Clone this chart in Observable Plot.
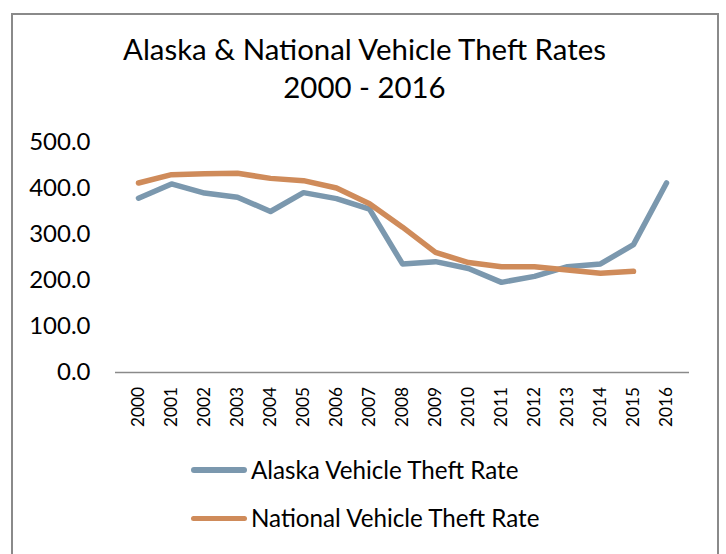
<!DOCTYPE html>
<html>
<head>
<meta charset="utf-8">
<script src="https://cdn.jsdelivr.net/npm/d3@7"></script>
<script src="https://cdn.jsdelivr.net/npm/@observablehq/plot@0.6"></script>
<style>
  html, body { margin: 0; padding: 0; background: #fff; }
  #wrap { position: relative; width: 726px; height: 554px; overflow: hidden; font-family: Lato, "Open Sans", sans-serif; color: #000; }
  #frame { position: absolute; left: 11px; top: 13px; width: 708px; height: 600px; border: 2px solid #8a8a8a; box-sizing: border-box; }
  #title { position: absolute; left: 0; top: 29.5px; width: 729px; text-align: center; font-size: 29.4px; line-height: 38.5px; white-space: nowrap; }
  #chart { position: absolute; left: 0; top: 0; }
  .legtxt { position: absolute; left: 251px; font-size: 24.2px; line-height: 29px; white-space: nowrap; }
  .legsw { position: absolute; left: 191px; width: 56px; height: 5.5px; border-radius: 3px; }
</style>
</head>
<body>
<div id="wrap">
  <div id="frame"></div>
  <div id="chart"></div>
  <div id="title">Alaska &amp; National Vehicle Theft Rates<br>2000 - 2016</div>
  <div id="legend"></div>
</div>
<script>
const years = ["2000","2001","2002","2003","2004","2005","2006","2007","2008","2009","2010","2011","2012","2013","2014","2015","2016"];
const alaska = [379, 410, 390, 381, 350, 391, 378, 355, 236, 241, 226, 196, 209, 230, 236, 278, 412];
const national = [412, 430, 432, 433, 422, 417, 401, 367, 316, 261, 239, 230, 230, 223, 216, 220];
const seriesNames = ["Alaska Vehicle Theft Rate", "National Vehicle Theft Rate"];
const seriesColors = ["#7b98ae", "#cf8b5a"];
const yTicks = [0, 100, 200, 300, 400, 500];

const data = [];
years.forEach((y, i) => { if (alaska[i] != null) data.push({year: y, value: alaska[i], series: seriesNames[0]}); });
years.forEach((y, i) => { if (national[i] != null) data.push({year: y, value: national[i], series: seriesNames[1]}); });

const chart = Plot.plot({
  width: 726,
  height: 554,
  marginTop: 142,
  marginBottom: 182,
  marginLeft: 115,
  marginRight: 37,
  style: {fontFamily: "Lato, 'Open Sans', sans-serif", color: "#000", background: "transparent", overflow: "visible"},
  x: {type: "point", domain: years, padding: 0.5},
  y: {domain: [0, 500]},
  color: {domain: seriesNames, range: seriesColors},
  marks: [
    Plot.axisY({ticks: yTicks, tickFormat: d => d.toFixed(1), tickSize: 0, tickPadding: 25, label: null, fontSize: 24}),
    Plot.axisX({tickRotate: -90, tickSize: 0, tickPadding: 14.5, label: null, fontSize: 17.3}),
    Plot.ruleY([0], {stroke: "#8a8a8a", strokeWidth: 1.5}),
    Plot.line(data, {x: "year", y: "value", z: "series", stroke: "series", strokeWidth: 5.5, strokeLinecap: "round", strokeLinejoin: "round"})
  ]
});
document.getElementById("chart").appendChild(chart);

const legend = document.getElementById("legend");
const legCenters = [470, 518.5];
seriesNames.forEach((n, i) => {
  const sw = document.createElement("div");
  sw.className = "legsw";
  sw.style.top = (legCenters[i] - 2.75) + "px";
  sw.style.background = seriesColors[i];
  legend.appendChild(sw);
  const t = document.createElement("div");
  t.className = "legtxt";
  t.style.top = (legCenters[i] - 15.2) + "px";
  t.textContent = n;
  legend.appendChild(t);
});
</script>
</body>
</html>
